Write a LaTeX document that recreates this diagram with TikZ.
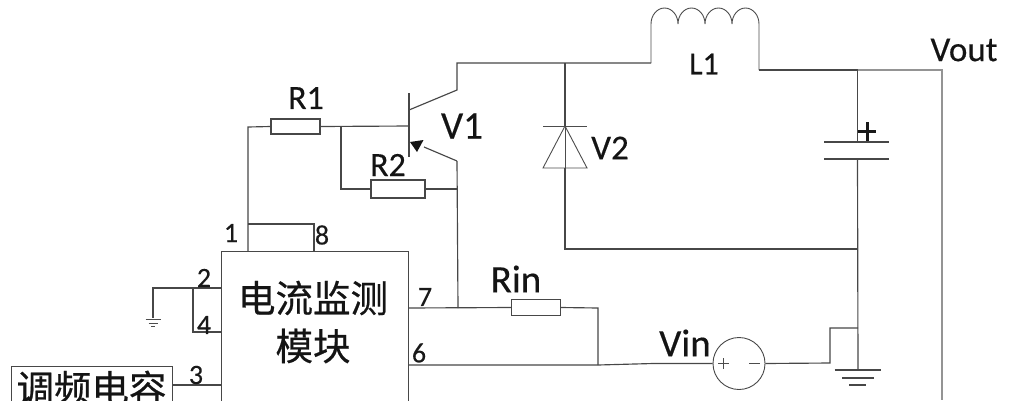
\documentclass[tikz,border=0pt]{standalone}
\usepackage{fontspec}
\setmainfont[FakeBold=0.35]{Carlito}
\newfontfamily\cjk[FakeBold=0.6]{Noto Sans CJK SC}
\tikzset{
  x=1pt,y=-1pt,
  wire/.style={draw=black!72,line width=1.15pt},
  lightwire/.style={draw=black!42,line width=1.2pt},
  thinwire/.style={draw=black!70,line width=.9pt},
  resbox/.style={draw=black!72,line width=1.15pt,fill=white,rectangle,inner sep=0pt,minimum width=#1},
  pin/.style={font=\fontsize{28}{28}\selectfont,text=black!90,inner sep=0pt},
  lab/.style={font=\fontsize{#1}{#1}\selectfont,text=black!92,inner sep=0pt},
  cn/.style={font=\cjk\fontsize{37.5}{37.5}\selectfont,text=black!92,inner sep=0pt},
}
\begin{document}
\begin{tikzpicture}
\useasboundingbox (0,0) rectangle (1012,400);
\clip (0,0) rectangle (1012,400);
% named anchors
\coordinate (p1) at (248,251);
\coordinate (p1t) at (248,224);
\coordinate (p8) at (314,251);
\coordinate (p8t) at (314,224);
\coordinate (r1l) at (248,127);
\coordinate (jb) at (341,126.5);
\coordinate (jbd) at (341,189);
\coordinate (base) at (409,126);
\coordinate (cb) at (409,110);
\coordinate (ce) at (457,90);
\coordinate (ct) at (457,63);
\coordinate (jd) at (565,63);
\coordinate (lin) at (651,63);
\coordinate (lbl) at (651,24);
\coordinate (lbr) at (759,24);
\coordinate (lout) at (759,70);
\coordinate (jc) at (857.5,70);
\coordinate (vo) at (942,70);
\coordinate (vob) at (942,400);
\coordinate (eb) at (424,147);
\coordinate (ee) at (457,161);
\coordinate (jr2) at (457,189);
\coordinate (j7) at (458,308);
\coordinate (p7) at (408,308);
\coordinate (p6) at (408,365);
\coordinate (jr) at (598,308);
\coordinate (jr6) at (598,365);
\coordinate (mid) at (653,363.5);
\coordinate (gx) at (830,363);
\coordinate (gy) at (830,328);
\coordinate (gz) at (858,328);
\coordinate (gnd) at (858,370);
\coordinate (jm) at (858,249);
\coordinate (dk) at (565,126);
\coordinate (db) at (565,168);
\coordinate (dj) at (565,249);
\coordinate (cpa) at (857.5,142);
\coordinate (cpb) at (857.5,159);
% module and resistors
\node[draw=black!72,line width=1.15pt,minimum width=187pt,minimum height=200pt,inner sep=0pt,anchor=north west] (mod) at (221,251) {};
\node[cn] (m1) at (313,298) {电流监测};
\node[cn] (m2) at (313,346) {模块};
\node[draw=black!72,line width=1.3pt,minimum width=161pt,minimum height=60pt,inner sep=0pt,anchor=north west] (cap) at (11,366) {};
\node[cn,anchor=north] (capt) at (91.5,370.5) {调频电容};
\node[resbox=49pt,minimum height=15pt] (r1) at (295.5,126.5) {};
\node[resbox=54pt,minimum height=18pt] (r2) at (398,189) {};
\node[resbox=48.5pt,minimum height=16pt] (rin) at (536,307.5) {};
\node[circle,draw=black!72,line width=.9pt,minimum size=52pt,inner sep=0pt] (vs) at (739,363.5) {};
% wires top left
\draw[wire] (p1) -- (r1l) -- (r1.west);
\draw[wire] (p1t) -- (p8t) -- (p8);
\draw[wire] (r1.east) -- (base);
\draw[wire] (jb) -- (jbd) -- (r2.west);
\draw[wire] (r2.east) -- (jr2);
% transistor
\draw[wire] (409,93) -- (409,157);
\draw[wire] (cb) -- (ce) -- (ct) -- (lin);
\draw[wire] (ee) -- (eb);
\fill[black!92] (410,142) -- (423.5,140) -- (417,152) -- cycle;
\draw[wire] (ee) -- (j7);
% inductor
\draw[thinwire] (lin) -- (lbl)
  arc[start angle=180,end angle=360,x radius=13.5,y radius=16]
  arc[start angle=180,end angle=360,x radius=13.5,y radius=16]
  arc[start angle=180,end angle=360,x radius=13.5,y radius=16]
  arc[start angle=180,end angle=360,x radius=13.5,y radius=16] -- (lout);
\draw[wire] (lout) -- (jc);
\draw[lightwire] (jc) -- (vo) -- (vob);
% diode
\draw[wire] (jd) -- (dk);
\draw[wire] (db) -- (dj) -- (jm);
\draw[thinwire] (dk) -- (db);
\draw[thinwire] (543,126) -- (587,126);
\draw[thinwire] (dk) -- (543,168) -- (587,168) -- cycle;
% capacitor
\draw[wire] (jc) -- (cpa);
\draw[wire] (cpb) -- (gnd);
\draw[line width=1.3pt,draw=black!72] (824,142) -- (889,142);
\draw[line width=1.3pt,draw=black!72] (824,159) -- (889,159);
\draw[line width=3pt,draw=black!90] (858,131) -- (876,131);
\draw[line width=3pt,draw=black!90] (867,122) -- (867,141);
% right ground
\draw[wire] (834.5,370) -- (881,370);
\draw[wire] (842,378) -- (874,378);
\draw[wire] (849,385) -- (866,385);
% input side
\draw[wire] (p7) -- (rin.west);
\draw[wire] (rin.east) -- (jr) -- (jr6);
\draw[wire] (p6) -- (jr6) -- (mid) -- (vs.west);
\draw[wire] (vs.east) -- (gx) -- (gy) -- (gz);
\draw[thinwire] (718,363.5) -- (729,363.5);
\draw[thinwire] (723.5,358) -- (723.5,369);
\draw[thinwire] (749,363.5) -- (760,363.5);
% left side
\draw[wire] (mod.west |- 0,288) -- (153,288) -- (153,318);
\draw[wire] (193,288) -- (193,332) -- (mod.west |- 0,332);
\draw[thinwire] (145.5,319) -- (160.5,319);
\draw[thinwire] (148.5,323) -- (157.5,323);
\draw[thinwire] (151,326) -- (155,326);
\draw[wire] (cap.east |- 0,385) -- (mod.west |- 0,385);
% labels
\node[pin] (l1) at (231,233) {1};
\node[pin] (l8) at (322,235) {8};
\node[pin] (l2) at (204,278) {2};
\node[pin] (l4) at (204,325) {4};
\node[pin] (l3) at (196,375) {3};
\node[pin] (l7) at (425,297) {7};
\node[pin] (l6) at (419,353) {6};
\node[lab=34] (tr1) at (306,98) {R1};
\node[lab=34] (tr2) at (388,165) {R2};
\node[lab=39] (tv1) at (462,126) {V1};
\node[lab=32] (tl1) at (704,64) {L1};
\node[lab=35] (tv2) at (610,148) {V2};
\node[lab=35] (tvo) at (964,50) {Vout};
\node[lab=39] (trin) at (516,279) {Rin};
\node[lab=39] (tvin) at (685,343) {Vin};
\end{tikzpicture}
\end{document}
